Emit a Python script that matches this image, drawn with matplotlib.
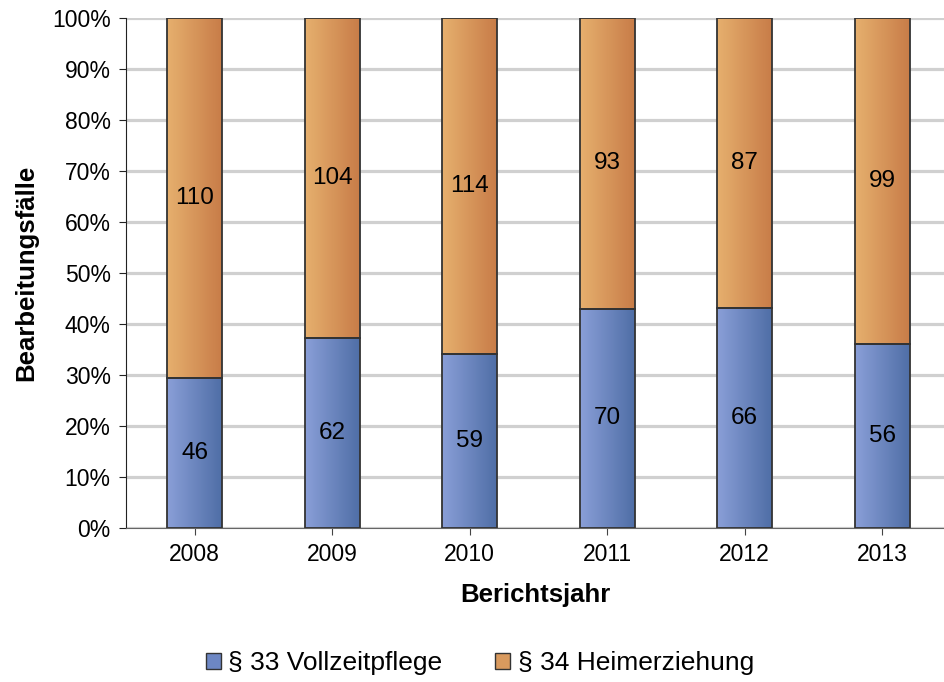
import numpy as np
import matplotlib
matplotlib.use("Agg")
import matplotlib.pyplot as plt
from matplotlib.colors import LinearSegmentedColormap
from matplotlib.patches import Rectangle
from matplotlib.ticker import PercentFormatter

plt.rcParams['font.family'] = ['Liberation Sans', 'DejaVu Sans']

years = ["2008", "2009", "2010", "2011", "2012", "2013"]
vollzeitpflege = [46, 62, 59, 70, 66, 56]
heimerziehung = [110, 104, 114, 93, 87, 99]
series_names = ["§ 33 Vollzeitpflege", "§ 34 Heimerziehung"]

blue_cmap = LinearSegmentedColormap.from_list("b", ["#8a9fd8", "#4f6ea6"])
orange_cmap = LinearSegmentedColormap.from_list("o", ["#e6b06e", "#c87c48"])

fig = plt.figure(figsize=(9.44, 6.82), dpi=100)
ax = fig.add_axes([126 / 944, 1 - 528 / 682, 1 - 126 / 944, 510 / 682])

x = np.arange(len(years))
tot = np.array(vollzeitpflege) + np.array(heimerziehung)
p33 = np.array(vollzeitpflege) / tot * 100
p34 = np.array(heimerziehung) / tot * 100
width = 0.4
grad = np.linspace(0, 1, 256).reshape(1, -1)


def gradient_bar(xc, bottom, height, cmap):
    x0 = xc - width / 2
    ax.imshow(grad, cmap=cmap, extent=[x0, x0 + width, bottom, bottom + height],
              aspect='auto', zorder=2, interpolation='bilinear')
    ax.add_patch(Rectangle((x0, bottom), width, height, fill=False,
                           edgecolor='#333333', linewidth=1.3, zorder=3))


for i in range(len(years)):
    gradient_bar(x[i], 0, p33[i], blue_cmap)
    gradient_bar(x[i], p33[i], p34[i], orange_cmap)
    ax.text(x[i], p33[i] / 2, str(vollzeitpflege[i]), ha='center', va='center',
            fontsize=17.5, color='black', zorder=4)
    ax.text(x[i], p33[i] + p34[i] / 2, str(heimerziehung[i]), ha='center', va='center',
            fontsize=17.5, color='black', zorder=4)

ax.set_xlim(-0.5, -0.5 + (944 - 126) / 137.5)
ax.set_ylim(0, 100)
ax.set_yticks(np.arange(0, 101, 10))
ax.yaxis.set_major_formatter(PercentFormatter(decimals=0))
ax.set_xticks(x)
ax.set_xticklabels(years)
ax.grid(axis='y', color='#d0d0d0', linewidth=2.3, zorder=0)
ax.set_axisbelow(True)
for s in ['top', 'right']:
    ax.spines[s].set_visible(False)
ax.spines['left'].set_color('#222222')
ax.spines['bottom'].set_color('#666666')
ax.tick_params(axis='y', length=5, color='#222222', labelsize=16.5, pad=6)
ax.tick_params(axis='x', length=5, color='#444444', labelsize=16.5, pad=6)

ax.set_xlabel("Berichtsjahr", fontsize=18.5, fontweight='bold', labelpad=12)
ax.set_ylabel("Bearbeitungsfälle", fontsize=18.5, fontweight='bold', labelpad=10)

handles = [Rectangle((0, 0), 1, 1, facecolor='#6d87c4', edgecolor='#333333', linewidth=1),
           Rectangle((0, 0), 1, 1, facecolor='#d99a5e', edgecolor='#333333', linewidth=1)]
fig.legend(handles, series_names, loc='center', bbox_to_anchor=(480 / 944, 1 - 663 / 682),
           ncol=2, frameon=False, fontsize=19, handlelength=0.55, handleheight=0.55,
           handletextpad=0.3, columnspacing=2.0)

fig.savefig("out.png", dpi=100)
